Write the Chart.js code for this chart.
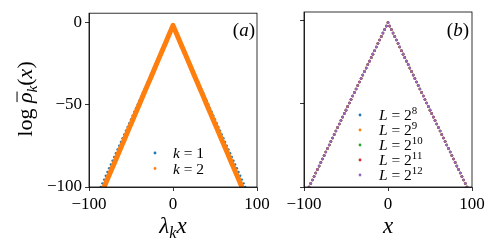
<!DOCTYPE html>
<html>
<head>
<meta charset="utf-8">
<script src="https://cdn.jsdelivr.net/npm/chart.js@4"></script>
<style>
  html, body { margin: 0; padding: 0; background: #fff; }
  #wrap { position: relative; width: 498px; height: 249px; overflow: hidden; }
  canvas { position: absolute; top: 0; }
</style>
</head>
<body>
<div id="wrap">
  <canvas id="panelA" width="278" height="249" style="left:0"></canvas>
  <canvas id="panelB" width="220" height="249" style="left:278px"></canvas>
</div>
<script>
// axis ticks (both panels)
const xTicks = [-100, 0, 100];
const yTicks = [-100, -50, 0];

// panel (a): log rho_k vs lambda_k x
const kOneX = [-86,-84,-82,-80,-78,-76,-74,-72,-70,-68,-66,-64,-62,-60,-58,-56,-54,-52,-50,-48,-46,-44,-42,-40,-38,-36,-34,-32,-30,-28,-26,-24,-22,-20,-18,-16,-14,-12,-10,-8,-6,-4,-2,0,2,4,6,8,10,12,14,16,18,20,22,24,26,28,30,32,34,36,38,40,42,44,46,48,50,52,54,56,58,60,62,64,66,68,70,72,74,76,78,80,82,84,86];
const kOneY = [-100.0,-97.8,-95.5,-93.2,-90.9,-88.6,-86.4,-84.1,-81.8,-79.5,-77.2,-75.0,-72.7,-70.4,-68.1,-65.8,-63.6,-61.3,-59.0,-56.7,-54.4,-52.2,-49.9,-47.6,-45.3,-43.0,-40.8,-38.5,-36.2,-33.9,-31.6,-29.4,-27.1,-24.8,-22.5,-20.2,-18.0,-15.7,-13.4,-11.1,-8.8,-6.6,-4.3,-2.0,-4.3,-6.6,-8.8,-11.1,-13.4,-15.7,-18.0,-20.2,-22.5,-24.8,-27.1,-29.4,-31.6,-33.9,-36.2,-38.5,-40.8,-43.0,-45.3,-47.6,-49.9,-52.2,-54.4,-56.7,-59.0,-61.3,-63.6,-65.8,-68.1,-70.4,-72.7,-75.0,-77.2,-79.5,-81.8,-84.1,-86.4,-88.6,-90.9,-93.2,-95.5,-97.8,-100.0];
const kTwoX = [-82,-80,-78,-76,-74,-72,-70,-68,-66,-64,-62,-60,-58,-56,-54,-52,-50,-48,-46,-44,-42,-40,-38,-36,-34,-32,-30,-28,-26,-24,-22,-20,-18,-16,-14,-12,-10,-8,-6,-4,-2,0,2,4,6,8,10,12,14,16,18,20,22,24,26,28,30,32,34,36,38,40,42,44,46,48,50,52,54,56,58,60,62,64,66,68,70,72,74,76,78,80,82];
const kTwoY = [-100.0,-97.6,-95.2,-92.8,-90.4,-88.0,-85.7,-83.3,-80.9,-78.5,-76.1,-73.7,-71.3,-68.9,-66.5,-64.1,-61.8,-59.4,-57.0,-54.6,-52.2,-49.8,-47.4,-45.0,-42.6,-40.2,-37.9,-35.5,-33.1,-30.7,-28.3,-25.9,-23.5,-21.1,-18.7,-16.3,-14.0,-11.6,-9.2,-6.8,-4.4,-2.0,-4.4,-6.8,-9.2,-11.6,-14.0,-16.3,-18.7,-21.1,-23.5,-25.9,-28.3,-30.7,-33.1,-35.5,-37.9,-40.2,-42.6,-45.0,-47.4,-49.8,-52.2,-54.6,-57.0,-59.4,-61.8,-64.1,-66.5,-68.9,-71.3,-73.7,-76.1,-78.5,-80.9,-83.3,-85.7,-88.0,-90.4,-92.8,-95.2,-97.6,-100.0];

// panel (b): all system sizes collapse onto the same curve
const sizeX = [-94,-92,-90,-88,-86,-84,-82,-80,-78,-76,-74,-72,-70,-68,-66,-64,-62,-60,-58,-56,-54,-52,-50,-48,-46,-44,-42,-40,-38,-36,-34,-32,-30,-28,-26,-24,-22,-20,-18,-16,-14,-12,-10,-8,-6,-4,-2,0,2,4,6,8,10,12,14,16,18,20,22,24,26,28,30,32,34,36,38,40,42,44,46,48,50,52,54,56,58,60,62,64,66,68,70,72,74,76,78,80,82,84,86,88,90,92,94];
const sizeY = [-100.0,-97.9,-95.8,-93.7,-91.6,-89.5,-87.4,-85.3,-83.1,-81.0,-78.9,-76.8,-74.7,-72.6,-70.5,-68.4,-66.3,-64.2,-62.1,-60.0,-57.9,-55.8,-53.7,-51.6,-49.4,-47.3,-45.2,-43.1,-41.0,-38.9,-36.8,-34.7,-32.6,-30.5,-28.4,-26.3,-24.2,-22.1,-20.0,-17.9,-15.7,-13.6,-11.5,-9.4,-7.3,-5.2,-3.1,-1.0,-3.1,-5.2,-7.3,-9.4,-11.5,-13.6,-15.7,-17.9,-20.0,-22.1,-24.2,-26.3,-28.4,-30.5,-32.6,-34.7,-36.8,-38.9,-41.0,-43.1,-45.2,-47.3,-49.4,-51.6,-53.7,-55.8,-57.9,-60.0,-62.1,-64.2,-66.3,-68.4,-70.5,-72.6,-74.7,-76.8,-78.9,-81.0,-83.1,-85.3,-87.4,-89.5,-91.6,-93.7,-95.8,-97.9,-100.0];
const sizeExps = ['8', '9', '10', '11', '12'];

const colors = ['#1f77b4', '#ff7f0e', '#2ca02c', '#d62728', '#9467bd'];
const SERIF = "'Liberation Serif', 'DejaVu Serif', serif";

Chart.defaults.font.family = SERIF;
Chart.defaults.color = '#000';

const pts = (xs, ys) => xs.map((x, i) => ({ x: x, y: ys[i] }));
const fmt = v => String(v).replace('-', '\u2212');

// little helper to lay out math-ish text (italics, sub/superscripts, overbar)
function partFont(p, size) {
  const s = (p.sub || p.sup) ? size * 0.7 : size;
  return (p.it ? 'italic ' : '') + s + 'px ' + SERIF;
}
function drawMath(ctx, parts, x, y, size, align) {
  ctx.save();
  ctx.textBaseline = 'alphabetic';
  ctx.textAlign = 'left';
  let total = 0;
  parts.forEach(p => { ctx.font = partFont(p, size); total += ctx.measureText(p.t).width; });
  let cx = align === 'center' ? x - total / 2 : align === 'right' ? x - total : x;
  parts.forEach(p => {
    ctx.font = partFont(p, size);
    const w = ctx.measureText(p.t).width;
    const dy = p.sub ? size * 0.22 : p.sup ? -size * 0.38 : 0;
    ctx.fillStyle = '#000';
    ctx.fillText(p.t, cx, y + dy);
    if (p.bar) {
      ctx.strokeStyle = '#000';
      ctx.lineWidth = 1;
      ctx.beginPath();
      ctx.moveTo(cx + 1, y - size * 0.68);
      ctx.lineTo(cx + w + 1, y - size * 0.68);
      ctx.stroke();
    }
    cx += w;
  });
  ctx.restore();
}

function axis(tickVals, min, max, showLabels, fit, isX) {
  return {
    type: 'linear',
    position: isX ? 'bottom' : 'left',
    min: min,
    max: max,
    afterBuildTicks: s => { s.ticks = tickVals.map(v => ({ value: v })); },
    afterFit: s => { if (isX) s.height = fit; else s.width = fit; },
    grid: { display: true, drawOnChartArea: false, drawTicks: true, tickLength: 4, color: '#000', lineWidth: 0.8 },
    border: { display: true, color: '#000', width: 0.8 },
    ticks: { display: showLabels, color: '#000', font: { family: SERIF, size: 17 }, padding: isX ? 3 : 3,
             maxRotation: 0, autoSkip: false, callback: v => fmt(v) }
  };
}

function decor(drawFn) {
  return {
    id: 'decor',
    afterDraw(chart) {
      const ctx = chart.ctx, a = chart.chartArea;
      ctx.save();
      ctx.strokeStyle = '#000';
      ctx.lineWidth = 0.8;
      ctx.strokeRect(a.left, a.top, a.right - a.left, a.bottom - a.top);
      ctx.restore();
      drawFn(ctx, chart);
    }
  };
}

function legendDot(ctx, x, y, color) {
  ctx.save();
  ctx.fillStyle = color;
  ctx.beginPath();
  ctx.arc(x, y, 1.4, 0, Math.PI * 2);
  ctx.fill();
  ctx.restore();
}

// ---- panel (a)
new Chart(document.getElementById('panelA'), {
  type: 'scatter',
  data: {
    datasets: [
      { label: 'k = 1', data: pts(kOneX, kOneY), backgroundColor: colors[0], borderColor: colors[0],
        pointRadius: 1.2, pointBorderWidth: 0, showLine: false, order: 2, clip: 0 },
      { label: 'k = 2', data: pts(kTwoX, kTwoY), backgroundColor: colors[1], borderColor: colors[1],
        pointRadius: 2, pointBorderWidth: 0, showLine: true, borderWidth: 5, borderJoinStyle: 'round',
        order: 1, clip: 0 }
    ]
  },
  options: {
    responsive: false,
    animation: false,
    layout: { padding: { left: 0, top: 12, right: 21, bottom: 0 } },
    scales: {
      x: axis(xTicks, -100, 100, true, 62, true),
      y: axis(yTicks, -100, 5.4, true, 89, false)
    },
    plugins: { legend: { display: false }, tooltip: { enabled: false } }
  },
  plugins: [decor((ctx, chart) => {
    drawMath(ctx, [{ t: 'λ', it: true }, { t: 'k', it: true, sub: true }, { t: 'x', it: true }], 173, 233, 23, 'center');
    ctx.save();
    ctx.translate(32, 99);
    ctx.rotate(-Math.PI / 2);
    drawMath(ctx, [{ t: 'log ' }, { t: 'ρ', it: true, bar: true }, { t: 'k', it: true, sub: true },
                   { t: '(' }, { t: 'x', it: true }, { t: ')' }], 0, 0, 22, 'center');
    ctx.restore();
    drawMath(ctx, [{ t: '(' }, { t: 'a', it: true }, { t: ')' }], 255, 36, 19, 'right');
    chart.data.datasets.forEach((d, i) => {
      const y = 153 + i * 15.5;
      legendDot(ctx, 155, y, d.backgroundColor);
      drawMath(ctx, [{ t: 'k', it: true }, { t: ' = ' + (i + 1) }], 173, y + 5, 15.5, 'left');
    });
  })]
});

// ---- panel (b)
new Chart(document.getElementById('panelB'), {
  type: 'scatter',
  data: {
    datasets: sizeExps.map((e, i) => ({
      label: 'L = 2^' + e, data: pts(sizeX, sizeY), backgroundColor: colors[i], borderColor: colors[i],
      pointRadius: 1.3, pointBorderWidth: 0, showLine: false, order: 5 - i, clip: 0
    }))
  },
  options: {
    responsive: false,
    animation: false,
    layout: { padding: { left: 0, top: 12, right: 26, bottom: 0 } },
    scales: {
      x: axis(xTicks, -100, 100, true, 62, true),
      y: axis(yTicks, -100, 5.4, false, 26, false)
    },
    plugins: { legend: { display: false }, tooltip: { enabled: false } }
  },
  plugins: [decor((ctx, chart) => {
    drawMath(ctx, [{ t: 'x', it: true }], 110, 233, 23, 'center');
    drawMath(ctx, [{ t: '(' }, { t: 'b', it: true }, { t: ')' }], 191, 36, 19, 'right');
    chart.data.datasets.forEach((d, i) => {
      const y = 115 + i * 15;
      legendDot(ctx, 82, y, d.backgroundColor);
      drawMath(ctx, [{ t: 'L', it: true }, { t: ' = 2' }, { t: sizeExps[i], sup: true }], 101, y + 5, 15.5, 'left');
    });
  })]
});
</script>
</body>
</html>
